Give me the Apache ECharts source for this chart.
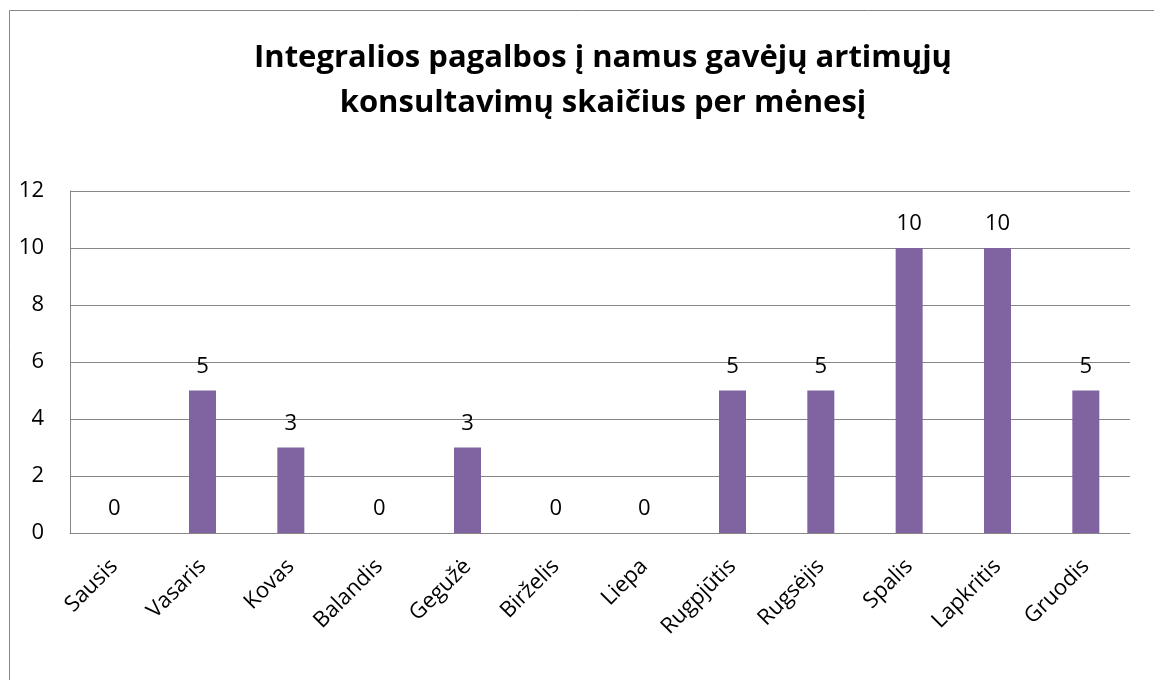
<html lang="lt">
<head>
    <meta charset="UTF-8">
    <title>Konsultavimų skaičius</title>
    <script src="https://cdn.jsdelivr.net/npm/echarts@6/dist/echarts.min.js"></script>
</head>
<style>
    body { margin: 0; }
    #container { width: 1154px; height: 680px; }
</style>
<body>
<div id="container"></div>
<script>
    var months = ['Sausis', 'Vasaris', 'Kovas', 'Balandis', 'Gegužė', 'Birželis', 'Liepa',
        'Rugpjūtis', 'Rugsėjis', 'Spalis', 'Lapkritis', 'Gruodis'];
    var counts = [0, 5, 3, 0, 3, 0, 0, 5, 5, 10, 10, 5];
    var titleText = 'Integralios pagalbos į namus gavėjų artimųjų\nkonsultavimų skaičius per mėnesį';

    var font = 'Open Sans';
    var chart = echarts.init(document.getElementById('container'));

    var option = {
        animation: false,
        graphic: [{
            type: 'rect',
            shape: { x: 9.5, y: 10.5, width: 1200, height: 700 },
            style: { fill: 'none', stroke: '#868686', lineWidth: 1 }
        }],
        title: {
            text: titleText,
            left: 598,
            top: 31,
            textAlign: 'center',
            textStyle: {
                fontFamily: font,
                fontWeight: 'bold',
                fontSize: 31,
                lineHeight: 45,
                color: '#000'
            }
        },
        grid: { left: 70, right: 24, top: 191, bottom: 147 },
        xAxis: {
            type: 'category',
            data: months,
            axisLine: { lineStyle: { color: '#868686' } },
            axisTick: { show: false },
            axisLabel: {
                rotate: 45,
                interval: 0,
                margin: 30,
                color: '#000',
                fontFamily: font,
                fontSize: 22
            }
        },
        yAxis: {
            type: 'value',
            min: 0,
            max: 12,
            interval: 2,
            axisLine: { show: true, lineStyle: { color: '#868686' } },
            axisTick: { show: false },
            splitLine: { lineStyle: { color: '#868686' } },
            axisLabel: {
                margin: 26,
                color: '#000',
                fontFamily: font,
                fontSize: 22
            }
        },
        series: [{
            type: 'bar',
            data: counts,
            barWidth: 27,
            itemStyle: { color: '#8064A2' },
            label: {
                show: true,
                position: 'top',
                distance: 13,
                color: '#000',
                fontFamily: font,
                fontSize: 22
            }
        }]
    };

    chart.setOption(option);
</script>
</body>
</html>
